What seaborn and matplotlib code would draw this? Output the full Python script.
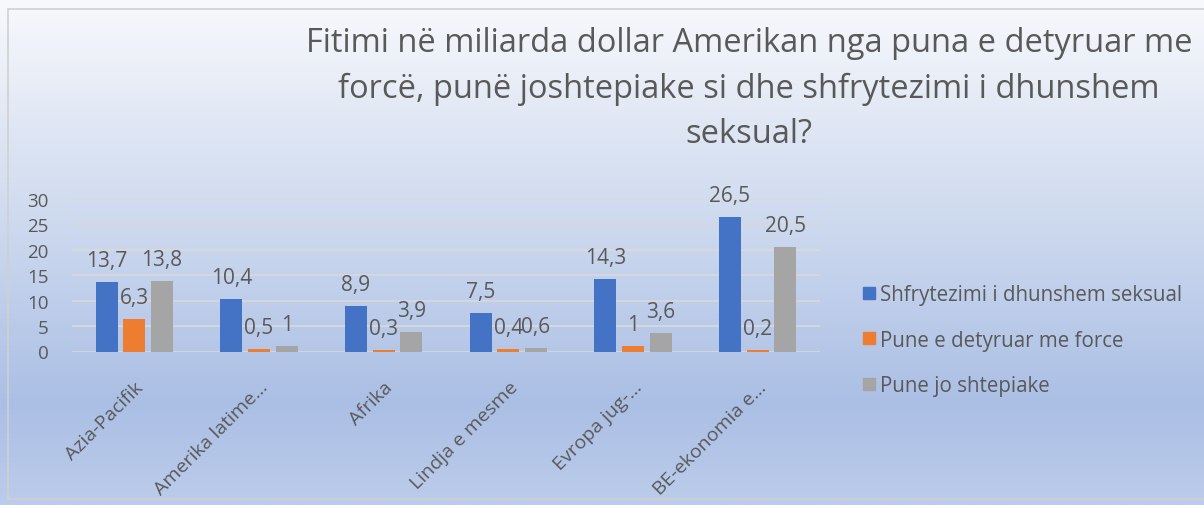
import numpy as np
import pandas as pd
import matplotlib
matplotlib.use("Agg")
import matplotlib.pyplot as plt
from matplotlib.patches import Rectangle
from matplotlib.lines import Line2D
import matplotlib.colors as mcolors
import seaborn as sns

categories = ["Azia-Pacifik", "Amerika latime…", "Afrika", "Lindja e mesme", "Evropa jug-…", "BE-ekonomia e…"]
series_names = ["Shfrytezimi i dhunshem seksual", "Pune e detyruar me force", "Pune jo shtepiake"]
shfrytezimi = [13.7, 10.4, 8.9, 7.5, 14.3, 26.5]
pune_detyruar = [6.3, 0.5, 0.3, 0.4, 1.0, 0.2]
pune_jo = [13.8, 1.0, 3.9, 0.6, 3.6, 20.5]
yticks = [0, 5, 10, 15, 20, 25, 30]
title = "Fitimi në miliarda dollar Amerikan nga puna e detyruar me\nforcë, punë joshtepiake si dhe shfrytezimi i dhunshem\nseksual?"
colors = ["#4472C4", "#ED7D31", "#A5A5A5"]
text_color = "#595959"

df = pd.DataFrame({
    "cat": categories * 3,
    "series": [series_names[0]] * 6 + [series_names[1]] * 6 + [series_names[2]] * 6,
    "value": shfrytezimi + pune_detyruar + pune_jo,
})

sns.set_theme(style="white")
plt.rcParams["font.family"] = ["Open Sans", "DejaVu Sans"]

W, H = 1204, 506
fig = plt.figure(figsize=(W / 100, H / 100), dpi=100)

# gradient background
bg = fig.add_axes([0, 0, 1, 1], zorder=-10)
cmap = mcolors.LinearSegmentedColormap.from_list(
    "bg", [(0.0, "#F8F9FC"), (0.35, "#D6E0F1"), (0.8, "#ABBFE5"), (1.0, "#BCCCEA")])
grad = np.linspace(0, 1, 256).reshape(-1, 1)
bg.imshow(grad, aspect="auto", cmap=cmap, extent=[0, 1, 0, 1], origin="upper")
bg.set_axis_off()
bg.add_patch(Rectangle((8 / W, 6 / H), 1.0, (500 - 10) / H, transform=bg.transAxes,
                       fill=False, edgecolor="#D0D0D0", lw=1.2))

ax = fig.add_axes([72 / W, (H - 352.5) / H, 748 / W, (352.5 - 200) / H])
ax.set_facecolor("none")
sns.barplot(data=df, x="cat", y="value", hue="series", palette=colors, width=0.666, gap=0.21,
            ax=ax, legend=False, saturation=1, linewidth=0, edgecolor="none")

for cont in ax.containers:
    vals = [b.get_height() for b in cont]
    labs = [f"{v:g}".replace(".", ",") for v in vals]
    ax.bar_label(cont, labels=labs, padding=8, fontsize=15, color=text_color, clip_on=False)

ax.set_ylim(0, 30)
ax.set_yticks(yticks)
ax.set_yticklabels([str(t) for t in yticks], fontsize=13.5, color=text_color)
ax.tick_params(axis="y", length=0, pad=17)
ax.tick_params(axis="x", length=0, pad=19)
ax.set_xlim(-0.5, 5.5)
ax.set_xticks(range(len(categories)))
ax.set_xticklabels(categories, rotation=45, ha="right", rotation_mode="anchor",
                   fontsize=14, color=text_color)
ax.grid(axis="y", color="#D9D9D9", lw=1.2)
ax.set_axisbelow(True)
for s in ax.spines.values():
    s.set_visible(False)
ax.set_xlabel("")
ax.set_ylabel("")

fig.text(0.622, 0.824, title, ha="center", va="center", fontsize=23.5, color=text_color,
         linespacing=1.48)

handles = [Line2D([0], [0], marker="s", linestyle="none", markersize=8.5,
                  markerfacecolor=c, markeredgecolor=c) for c in colors]
fig.legend(handles, series_names, loc="center left", bbox_to_anchor=(842 / W, (H - 341) / H),
           frameon=False, fontsize=14.8, labelcolor=text_color, handletextpad=0.15,
           labelspacing=1.18, handlelength=0.8)

fig.savefig("out.png", dpi=100)
